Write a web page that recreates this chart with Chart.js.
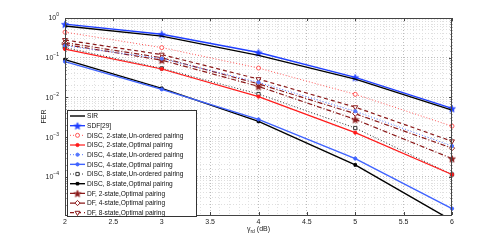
<!DOCTYPE html>
<html>
<head>
<meta charset="utf-8">
<script src="https://cdn.jsdelivr.net/npm/chart.js@4.4.0/dist/chart.umd.min.js"></script>
<style>
  html, body { margin: 0; padding: 0; background: #fff; }
  #wrap { width: 498px; height: 242px; }
</style>
</head>
<body>
<div id="wrap"><canvas id="ferChart" width="498" height="242"></canvas></div>
<script>
// gamma_rd (dB)
const snr = [2, 3, 4, 5, 6];

// FER values
const sir       = [0.63, 0.35, 0.115, 0.029, 0.0048];
const sdf       = [0.70, 0.39, 0.135, 0.032, 0.0053];
const disc2Un   = [0.44, 0.18, 0.055, 0.012, 0.0019];
const disc2Opt  = [0.165, 0.052, 0.0105, 0.0013, 0.000115];
const disc4Un   = [0.20, 0.095, 0.024, 0.0045, 0.0006];
const disc4Opt  = [0.08, 0.016, 0.0028, 0.00029, 0.000016];
const disc8Un   = [0.18, 0.054, 0.0122, 0.0017, 0.000115];
const disc8Opt  = [0.09, 0.017, 0.0025, 0.0002, 0.000008];
const df2       = [0.215, 0.087, 0.019, 0.0028, 0.00029];
const df4       = [0.24, 0.10, 0.022, 0.0039, 0.00053];
const df8       = [0.28, 0.12, 0.029, 0.0057, 0.00079];

const yMajor = [1, 0.1, 0.01, 0.001, 0.0001];
const xMajor = [2, 2.5, 3, 3.5, 4, 4.5, 5, 5.5, 6];

const FONT = "'Liberation Sans', Arial, sans-serif";
const darkRed = '#8b1a1a';

// filled pentagram marker (MATLAB 'p')
function pentagram(color, r) {
  const c = document.createElement('canvas');
  const s = Math.ceil(r * 2 + 2);
  c.width = s; c.height = s;
  const g = c.getContext('2d');
  g.translate(s / 2, s / 2 + 0.5);
  g.beginPath();
  for (let i = 0; i < 10; i++) {
    const a = -Math.PI / 2 + i * Math.PI / 5;
    const rr = i % 2 === 0 ? r : r * 0.42;
    g.lineTo(Math.cos(a) * rr, Math.sin(a) * rr);
  }
  g.closePath();
  g.fillStyle = color;
  g.fill();
  g.strokeStyle = color;
  g.lineWidth = 0.8;
  g.stroke();
  return c;
}

function series(label, data, color, opts) {
  return Object.assign({
    label: label,
    data: data.map((v, i) => ({ x: snr[i], y: v })),
    borderColor: color,
    backgroundColor: color,
    pointBorderColor: color,
    pointBackgroundColor: color,
    borderWidth: 1.2,
    pointRadius: 1.7,
    pointBorderWidth: 1,
    pointStyle: 'circle',
    borderDash: [],
    tension: 0,
    clip: { left: 8, top: 8, right: 8, bottom: 0 }
  }, opts);
}

const datasets = [
  series('SIR', sir, '#000000', { pointRadius: 0, borderWidth: 1.4 }),
  series('SDF[29]', sdf, '#1f3fff', { pointStyle: pentagram('#1f3fff', 3.6), pointRadius: 3.5, borderWidth: 1.4 }),
  series('DISC, 2-state,Un-ordered pairing', disc2Un, '#ff5555', { borderDash: [1, 2], pointBackgroundColor: '#ffffff', pointRadius: 2, borderWidth: 1 }),
  series('DISC, 2-state,Optimal pairing', disc2Opt, '#ff1a1a', { pointRadius: 1.6 }),
  series('DISC, 4-state,Un-ordered pairing', disc4Un, '#5577ff', { borderDash: [1, 2], pointRadius: 1.6, borderWidth: 1 }),
  series('DISC, 4-state,Optimal pairing', disc4Opt, '#3f63ff', { pointRadius: 1.6, borderWidth: 1.4 }),
  series('DISC, 8-state,Un-ordered pairing', disc8Un, '#333333', { borderDash: [1, 2], pointStyle: 'rect', pointBackgroundColor: '#ffffff', pointRadius: 2.3, borderWidth: 1 }),
  series('DISC, 8-state,Optimal pairing', disc8Opt, '#000000', { pointStyle: 'rect', pointRadius: 1.8, borderWidth: 1.4 }),
  series('DF, 2-state,Optimal pairing', df2, darkRed, { borderDash: [5, 2, 1, 2], pointStyle: pentagram(darkRed, 3.6), pointRadius: 3.5 }),
  series('DF, 4-state,Optimal pairing', df4, darkRed, { borderDash: [5, 2, 1, 2], pointStyle: 'rectRot', pointBackgroundColor: '#ffffff', pointRadius: 2.6 }),
  series('DF, 8-state,Optimal pairing', df8, darkRed, { borderDash: [4, 3], pointStyle: 'triangle', rotation: 180, pointBackgroundColor: '#ffffff', pointRadius: 2.8 })
];

function isHalf(v) { return Math.abs(v * 2 - Math.round(v * 2)) < 1e-6; }
function isPow10(v) { const l = Math.log10(v); return Math.abs(l - Math.round(l)) < 1e-6; }

// axes box, inward ticks, y labels with exponents, axis titles, legend
const decor = {
  id: 'decor',
  afterDatasetsDraw(chart) {
    const ctx = chart.ctx;
    const a = chart.chartArea;
    const xs = chart.scales.x, ys = chart.scales.y;
    ctx.save();
    ctx.setLineDash([]);
    ctx.strokeStyle = '#444';
    ctx.lineWidth = 1;
    ctx.strokeRect(a.left + 0.5, a.top + 0.5, a.right - a.left - 1, a.bottom - a.top);

    // ticks
    ctx.beginPath();
    xMajor.forEach(v => {
      const px = Math.round(xs.getPixelForValue(v)) + 0.5;
      ctx.moveTo(px, a.bottom); ctx.lineTo(px, a.bottom - 3);
      ctx.moveTo(px, a.top); ctx.lineTo(px, a.top + 3);
    });
    ys.ticks.forEach(t => {
      const py = Math.round(ys.getPixelForValue(t.value)) + 0.5;
      const len = isPow10(t.value) ? 3 : 1.5;
      ctx.moveTo(a.left, py); ctx.lineTo(a.left + len, py);
      ctx.moveTo(a.right, py); ctx.lineTo(a.right - len, py);
    });
    ctx.stroke();

    // y labels 10^n
    ctx.fillStyle = '#222';
    ctx.textBaseline = 'middle';
    yMajor.forEach(v => {
      const py = ys.getPixelForValue(v);
      const e = String(Math.round(Math.log10(v))).replace('-', '\u2212');
      ctx.font = '5px ' + FONT;
      const ew = ctx.measureText(e).width;
      ctx.textAlign = 'right';
      ctx.fillText(e, a.left - 6, py - 3);
      ctx.font = '7px ' + FONT;
      ctx.fillText('10', a.left - 6 - ew, py + 0.5);
    });

    // y title
    ctx.save();
    ctx.translate(44, (a.top + a.bottom) / 2);
    ctx.rotate(-Math.PI / 2);
    ctx.textAlign = 'center';
    ctx.font = '7px ' + FONT;
    ctx.fillText('FER', 0, 0);
    ctx.restore();

    // x title: gamma_rd (dB)
    ctx.textBaseline = 'alphabetic';
    ctx.textAlign = 'left';
    const parts = [['\u03b3', '7px', 0], ['rd', '5px', 1.8], [' (dB)', '7px', 0]];
    let w = 0;
    parts.forEach(p => { ctx.font = p[1] + ' ' + FONT; w += ctx.measureText(p[0]).width; });
    let tx = (a.left + a.right) / 2 - w / 2;
    parts.forEach(p => {
      ctx.font = p[1] + ' ' + FONT;
      ctx.fillText(p[0], tx, 231 + p[2]);
      tx += ctx.measureText(p[0]).width;
    });

    // legend
    const lx = 67, ly = 110, lw = 130, lh = 107;
    ctx.fillStyle = '#fff';
    ctx.fillRect(lx, ly, lw, lh);
    ctx.strokeStyle = '#333';
    ctx.strokeRect(lx + 0.5, ly + 0.5, lw - 1, lh - 1);
    chart.data.datasets.forEach((ds, i) => {
      const y = 116 + i * 9.67;
      ctx.strokeStyle = ds.borderColor;
      ctx.lineWidth = ds.borderWidth;
      ctx.setLineDash(ds.borderDash || []);
      ctx.beginPath();
      ctx.moveTo(70, y); ctx.lineTo(85, y);
      ctx.stroke();
      ctx.setLineDash([]);
      if (ds.pointRadius > 0) {
        ctx.fillStyle = ds.pointBackgroundColor;
        ctx.strokeStyle = ds.pointBorderColor;
        ctx.lineWidth = ds.pointBorderWidth;
        Chart.helpers.drawPoint(ctx, {
          pointStyle: ds.pointStyle,
          radius: ds.pointRadius,
          rotation: ds.rotation || 0,
          borderWidth: ds.pointBorderWidth
        }, 77.5, y);
      }
      ctx.fillStyle = '#111';
      ctx.font = '6.6px ' + FONT;
      ctx.textBaseline = 'middle';
      ctx.textAlign = 'left';
      ctx.fillText(ds.label, 87, y + 0.5);
    });
    ctx.restore();
  }
};

new Chart(document.getElementById('ferChart'), {
  type: 'line',
  data: { datasets: datasets },
  options: {
    responsive: false,
    animation: false,
    layout: { padding: { left: 0, right: 46, top: 18, bottom: 0 } },
    plugins: { legend: { display: false }, tooltip: { enabled: false } },
    scales: {
      x: {
        type: 'linear',
        min: 2, max: 6,
        afterFit(s) { s.height = 27; },
        afterBuildTicks(s) {
          const t = [];
          for (let i = 0; i <= 40; i++) t.push({ value: 2 + i * 0.1 });
          s.ticks = t;
        },
        grid: {
          drawTicks: false,
          color: c => isHalf(c.tick.value) ? '#bdbdbd' : '#e2e2e2',
          lineWidth: 1
        },
        border: { display: false, dash: [1, 2] },
        ticks: {
          autoSkip: false,
          maxRotation: 0,
          padding: 3,
          color: '#222',
          font: { family: FONT, size: 7 },
          callback: v => isHalf(v) ? String(Math.round(v * 2) / 2) : ''
        }
      },
      y: {
        type: 'logarithmic',
        min: 1.1e-5, max: 1,
        afterFit(s) { s.width = 65; },
        grid: {
          drawTicks: false,
          color: c => isPow10(c.tick.value) ? '#bdbdbd' : '#dedede',
          lineWidth: 1
        },
        border: { display: false, dash: [1, 2] },
        ticks: { display: false, autoSkip: false }
      }
    }
  },
  plugins: [decor]
});
</script>
</body>
</html>
